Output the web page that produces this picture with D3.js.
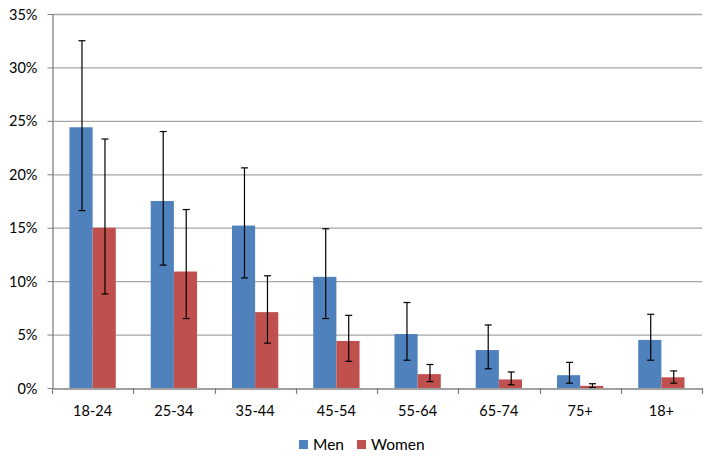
<!DOCTYPE html>
<html><head><meta charset="utf-8">
<script src="https://cdn.jsdelivr.net/npm/d3@7"></script>
<style>body{margin:0;background:#fff}svg{display:block}text{font-family:Lato,"Open Sans",sans-serif;fill:#000}</style>
</head><body><svg id="c" width="712" height="459"></svg>
<script>
const categories = ["18-24","25-34","35-44","45-54","55-64","65-74","75+","18+"];
const seriesNames = ["Men","Women"];
const menValues = [24.4,17.5,15.2,10.4,5.05,3.55,1.2,4.5];
const menLow = [16.6,11.5,10.3,6.5,2.6,1.8,0.45,2.6];
const menHigh = [32.5,24.0,20.6,14.9,8.0,5.9,2.4,6.9];
const womenValues = [15.0,10.9,7.1,4.4,1.3,0.8,0.2,1.0];
const womenLow = [8.8,6.5,4.2,2.5,0.6,0.3,0.05,0.45];
const womenHigh = [23.3,16.7,10.5,6.8,2.2,1.5,0.4,1.6];
const yTicks = [0,5,10,15,20,25,30,35];
const colors = ["#4f81bd","#c0504d"];

const svg = d3.select("#c");
const L=52, R=702, T=14, B=388;
const x = d3.scaleBand().domain(categories).range([L,R]).paddingInner(0.43).paddingOuter(0.215);
const xs = d3.scaleBand().domain(seriesNames).range([0,x.bandwidth()]);
const y = d3.scaleLinear().domain([0,35]).range([B,T]);

svg.append("g").selectAll("line").data(yTicks.slice(1)).join("line")
  .attr("x1",L).attr("x2",R).attr("y1",d=>y(d)+0.5).attr("y2",d=>y(d)+0.5)
  .attr("stroke","#a6a6a6").attr("stroke-width",1.3);

const yAx = svg.append("g").attr("transform",`translate(${L+0.5},0)`)
  .call(d3.axisLeft(y).tickValues(yTicks).tickFormat(d=>d+"%").tickSize(5).tickSizeOuter(0));
yAx.select(".domain").attr("stroke","#808080").attr("stroke-width",1.3);
yAx.selectAll(".tick line").attr("stroke","#808080");
yAx.selectAll("text").attr("font-size",14.5).attr("x",-15).attr("dy","0.35em");

const data = categories.map((c,i)=>({c, vals:[
  {s:"Men",v:menValues[i],lo:menLow[i],hi:menHigh[i]},
  {s:"Women",v:womenValues[i],lo:womenLow[i],hi:womenHigh[i]}]}));

const g = svg.append("g").selectAll("g").data(data).join("g")
  .attr("transform",d=>`translate(${x(d.c)},0)`);
g.selectAll("rect").data(d=>d.vals).join("rect")
  .attr("x",d=>xs(d.s)).attr("width",xs.bandwidth())
  .attr("y",d=>y(d.v)).attr("height",d=>B-y(d.v))
  .attr("fill",(d,i)=>colors[i]);
const eb = g.selectAll("g.eb").data(d=>d.vals).join("g").attr("class","eb")
  .attr("transform",d=>`translate(${Math.round(xs(d.s)+xs.bandwidth()/2)+0.5},0)`);
eb.append("line").attr("y1",d=>y(d.lo)).attr("y2",d=>y(d.hi)).attr("stroke","#000").attr("stroke-width",1.2);
eb.append("line").attr("x1",-3.5).attr("x2",3.5).attr("y1",d=>y(d.hi)).attr("y2",d=>y(d.hi)).attr("stroke","#000").attr("stroke-width",1.2);
eb.append("line").attr("x1",-3.5).attr("x2",3.5).attr("y1",d=>y(d.lo)).attr("y2",d=>y(d.lo)).attr("stroke","#000").attr("stroke-width",1.2);

const xAx = svg.append("g").attr("transform",`translate(0,${B+0.5})`)
  .call(d3.axisBottom(x).tickSize(0).tickSizeOuter(0));
xAx.select(".domain").attr("stroke","#808080").attr("stroke-width",1.3);
xAx.selectAll("text").attr("font-size",14.5).attr("dy","0").attr("y",27);
const bounds = d3.range(categories.length+1).map(i=>L+i*x.step());
svg.append("g").selectAll("line").data(bounds).join("line")
  .attr("x1",d=>Math.round(d)+0.5).attr("x2",d=>Math.round(d)+0.5).attr("y1",B).attr("y2",B+6)
  .attr("stroke","#808080").attr("stroke-width",1.2);

const leg = svg.append("g").selectAll("g").data(seriesNames).join("g")
  .attr("transform",(d,i)=>`translate(${[299,357][i]},440)`);
leg.append("rect").attr("width",9).attr("height",9).attr("fill",(d,i)=>colors[i]);
leg.append("text").attr("x",14).attr("y",10).attr("font-size",15.5).text(d=>d);
</script></body></html>
